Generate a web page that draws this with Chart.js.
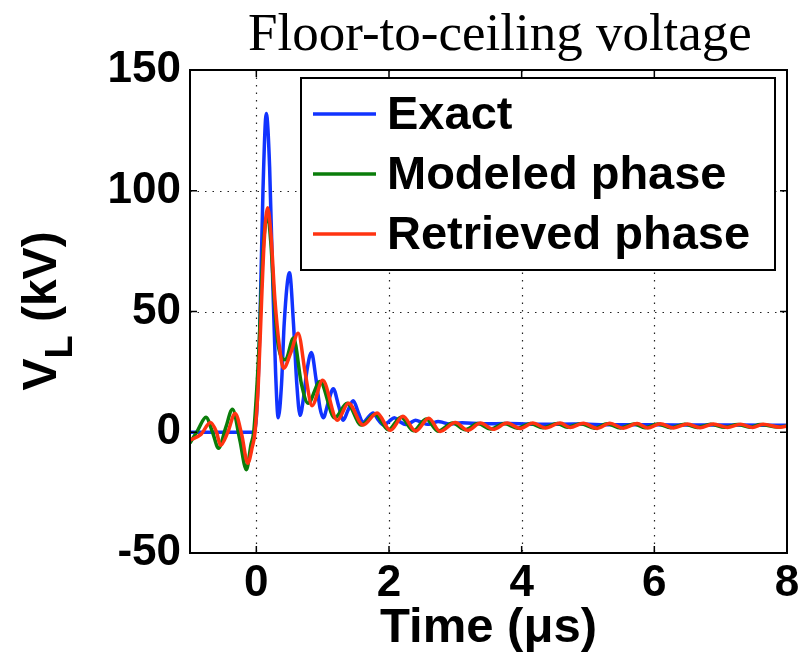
<!DOCTYPE html>
<html>
<head>
<meta charset="utf-8">
<script src="https://cdn.jsdelivr.net/npm/chart.js@4/dist/chart.umd.min.js"></script>
<style>
  html, body { margin: 0; padding: 0; background: #fff; }
  #wrap { width: 809px; height: 665px; }
</style>
</head>
<body>
<div id="wrap"><canvas id="c" width="809" height="665"></canvas></div>
<script>
// Floor-to-ceiling voltage V_L (kV) versus time (µs)

const xTickValues = [0, 2, 4, 6, 8];
const yTickValues = [-50, 0, 50, 100, 150];

const seriesNames = ['Exact', 'Modeled phase', 'Retrieved phase'];

// Exact response
const exactTime = [-1.0, -0.05, 0.0, 0.05, 0.1, 0.15, 0.2, 0.25, 0.29, 0.33, 0.38, 0.42, 0.5, 0.56, 0.61, 0.66,
  0.71, 0.76, 0.83, 0.9, 0.96, 1.01, 1.08, 1.16, 1.24, 1.31, 1.38, 1.46, 1.54, 1.61, 1.68, 1.76, 1.84, 1.92,
  2.0, 2.08, 2.16, 2.25, 2.33, 2.4, 2.5, 2.58, 2.66, 2.74, 2.82, 2.9, 3.1, 3.4, 3.8, 4.3, 4.8, 5.4, 6.0, 6.6, 7.2, 8.0];
const exactKV = [0, 0, 6, 40, 100, 132, 110, 60, 25, 6, 20, 45, 66, 45, 20, 7,
  14, 25, 33, 22, 10, 6, 12, 18, 11, 5, 9, 13, 8, 4, 6, 8, 5, 3,
  4.5, 6, 4.5, 3.2, 4, 5, 4, 3.3, 3.8, 4.5, 4, 3.4, 3.9, 3.5, 3.6, 3.3, 3.4, 3.1, 3.1, 3.0, 3.0, 2.9];

// Modeled phase
const modeledTime = [-1.0, -0.88, -0.76, -0.66, -0.57, -0.46, -0.36, -0.25, -0.15, -0.08, -0.04, 0.0, 0.04, 0.08,
  0.12, 0.17, 0.22, 0.27, 0.33, 0.44, 0.56, 0.68, 0.78, 0.96, 1.18, 1.37, 1.58, 1.79, 1.99, 2.18, 2.37,
  2.56, 2.74, 2.96, 3.15, 3.34, 3.53, 3.74, 3.94, 4.13, 4.32, 4.54, 4.69, 4.89, 5.1, 5.29, 5.49, 5.7,
  5.86, 6.05, 6.25, 6.46, 6.65, 6.85, 7.06, 7.26, 7.44, 7.6, 7.86, 8.0];
const modeledKV = [-4.5, 1, 6.2, 0, -6.6, 2, 9.5, -3, -15.5, -5, 0, 15, 35, 63,
  82, 90, 78, 55, 36, 30, 39, 20, 12, 21, 6, 12, 3, 7.5, 1, 6.2, 0.6,
  5.5, 0.5, 3.8, 1, 3.6, 1.3, 3.6, 1.7, 3.6, 1.9, 3.6, 2.1, 3.5, 1.7, 3.5, 1.8, 3.4,
  1.9, 3.4, 1.9, 3.3, 2.0, 3.3, 2.1, 3.2, 2.1, 3.2, 2.2, 2.6];

// Retrieved phase
const retrievedTime = [-1.0, -0.84, -0.69, -0.6, -0.54, -0.43, -0.32, -0.22, -0.13, -0.06, -0.02, 0.03, 0.08,
  0.12, 0.17, 0.22, 0.28, 0.35, 0.41, 0.52, 0.63, 0.74, 0.84, 1.0, 1.22, 1.39, 1.61, 1.82, 2.02, 2.21,
  2.4, 2.6, 2.77, 3.0, 3.19, 3.38, 3.57, 3.78, 3.98, 4.17, 4.36, 4.58, 4.73, 4.93, 5.14, 5.33, 5.53,
  5.74, 5.9, 6.09, 6.29, 6.5, 6.69, 6.89, 7.1, 7.3, 7.48, 7.64, 7.9, 8.0];
const retrievedKV = [-3.3, -1, 4, 0, -5.4, 0, 7.8, -1, -12.8, -6, 0, 20, 55,
  80, 93, 82, 55, 35, 26.5, 33, 41, 24, 11, 21.5, 5, 12, 3, 8, 0.8, 6.6,
  0.5, 5.8, 0.3, 4, 0.8, 3.8, 1.2, 3.8, 1.6, 3.8, 1.8, 3.8, 2.0, 3.7, 1.6, 3.7, 1.7,
  3.6, 1.8, 3.5, 1.8, 3.4, 1.9, 3.4, 2.0, 3.3, 2.0, 3.3, 2.1, 2.6];

const seriesColors = ['#1133ff', '#0a7d0a', '#ff3311'];

function toPoints(ts, vs) { return ts.map((t, i) => ({ x: t, y: vs[i] })); }

const SANS = "'Liberation Sans', Arial, Helvetica, sans-serif";
const SERIF = "'Liberation Serif', 'Times New Roman', serif";

// Dotted grid, inward ticks on all four sides, and the axes box
const framePlugin = {
  id: 'frame',
  beforeDatasetsDraw(chart) {
    const { ctx, chartArea: a, scales: { x, y } } = chart;
    ctx.save();
    ctx.strokeStyle = '#222';
    ctx.lineWidth = 1.2;
    ctx.setLineDash([1.5, 6]);
    xTickValues.forEach(v => {
      const px = Math.round(x.getPixelForValue(v)) + 0.5;
      if (px > a.left + 1 && px < a.right - 1) {
        ctx.beginPath(); ctx.moveTo(px, a.top); ctx.lineTo(px, a.bottom); ctx.stroke();
      }
    });
    yTickValues.forEach(v => {
      const py = Math.round(y.getPixelForValue(v)) + 0.5;
      if (py > a.top + 1 && py < a.bottom - 1) {
        ctx.beginPath(); ctx.moveTo(a.left, py); ctx.lineTo(a.right, py); ctx.stroke();
      }
    });
    ctx.restore();
  },
  afterDatasetsDraw(chart) {
    const { ctx, chartArea: a, scales: { x, y } } = chart;
    ctx.save();
    ctx.strokeStyle = '#000';
    ctx.lineWidth = 1.5;
    ctx.setLineDash([]);
    const tl = 7;
    xTickValues.forEach(v => {
      const px = x.getPixelForValue(v);
      ctx.beginPath();
      ctx.moveTo(px, a.bottom); ctx.lineTo(px, a.bottom - tl);
      ctx.moveTo(px, a.top); ctx.lineTo(px, a.top + tl);
      ctx.stroke();
    });
    yTickValues.forEach(v => {
      const py = y.getPixelForValue(v);
      ctx.beginPath();
      ctx.moveTo(a.left, py); ctx.lineTo(a.left + tl, py);
      ctx.moveTo(a.right, py); ctx.lineTo(a.right - tl, py);
      ctx.stroke();
    });
    ctx.lineWidth = 2;
    ctx.strokeRect(a.left, a.top, a.right - a.left, a.bottom - a.top);
    ctx.restore();
  }
};

// Title, rotated y label with subscript, and the boxed legend
const textPlugin = {
  id: 'texts',
  afterDraw(chart) {
    const { ctx, chartArea: a } = chart;
    ctx.save();
    ctx.fillStyle = '#000';
    ctx.textBaseline = 'alphabetic';

    ctx.font = '53px ' + SERIF;
    ctx.textAlign = 'center';
    ctx.fillText('Floor-to-ceiling voltage', 500, 50);

    // y label
    ctx.save();
    ctx.translate(56, 311);
    ctx.rotate(-Math.PI / 2);
    const big = 'bold 48px ' + SANS;
    const sub = 'bold 38px ' + SANS;
    ctx.font = big; const wV = ctx.measureText('V').width;
    ctx.font = sub; const wL = ctx.measureText('L').width;
    ctx.font = big; const wR = ctx.measureText(' (kV)').width;
    let sx = -(wV + wL + wR) / 2;
    ctx.textAlign = 'left';
    ctx.font = big; ctx.fillText('V', sx, 0); sx += wV;
    ctx.font = sub; ctx.fillText('L', sx, 16); sx += wL;
    ctx.font = big; ctx.fillText(' (kV)', sx, 0);
    ctx.restore();

    // legend
    const lx = 301, ly = 78, lw = 474, lh = 192;
    ctx.fillStyle = '#fff';
    ctx.fillRect(lx, ly, lw, lh);
    ctx.strokeStyle = '#000';
    ctx.lineWidth = 2;
    ctx.strokeRect(lx, ly, lw, lh);
    ctx.font = 'bold 47px ' + SANS;
    ctx.textAlign = 'left';
    ctx.textBaseline = 'middle';
    chart.data.datasets.forEach((ds, i) => {
      const yy = 114 + i * 60;
      ctx.strokeStyle = ds.borderColor;
      ctx.lineWidth = 3.5;
      ctx.beginPath(); ctx.moveTo(313, yy); ctx.lineTo(376, yy); ctx.stroke();
      ctx.fillStyle = '#000';
      ctx.fillText(ds.label, 387, yy + 2);
    });
    ctx.restore();
  }
};

new Chart(document.getElementById('c'), {
  type: 'line',
  data: {
    datasets: [
      { label: seriesNames[0], data: toPoints(exactTime, exactKV), borderColor: seriesColors[0], order: 3 },
      { label: seriesNames[1], data: toPoints(modeledTime, modeledKV), borderColor: seriesColors[1], order: 2 },
      { label: seriesNames[2], data: toPoints(retrievedTime, retrievedKV), borderColor: seriesColors[2], order: 1 }
    ]
  },
  options: {
    responsive: false,
    animation: false,
    devicePixelRatio: 1,
    layout: { padding: { left: 0, top: 70, right: 22, bottom: 0 } },
    elements: {
      point: { radius: 0 },
      line: { borderWidth: 3.5, cubicInterpolationMode: 'monotone', fill: false }
    },
    plugins: {
      legend: { display: false },
      title: { display: false },
      tooltip: { enabled: false }
    },
    scales: {
      x: {
        type: 'linear',
        min: -1, max: 8,
        afterBuildTicks: s => { s.ticks = xTickValues.map(v => ({ value: v })); },
        afterFit: s => { s.height = 112; },
        grid: { display: false, drawTicks: false },
        border: { display: false },
        ticks: { color: '#000', font: { family: SANS, size: 44, weight: 'bold' }, padding: 4, maxRotation: 0 },
        title: { display: true, text: 'Time (\u03bcs)', color: '#000', font: { family: SANS, size: 49, weight: 'bold' }, padding: { top: 0, bottom: 7 } }
      },
      y: {
        type: 'linear',
        min: -50, max: 150,
        afterBuildTicks: s => { s.ticks = yTickValues.map(v => ({ value: v })); },
        afterFit: s => { s.width = 190; },
        grid: { display: false, drawTicks: false },
        border: { display: false },
        ticks: { color: '#000', font: { family: SANS, size: 44, weight: 'bold' }, padding: 9 }
      }
    }
  },
  plugins: [framePlugin, textPlugin]
});
</script>
</body>
</html>
